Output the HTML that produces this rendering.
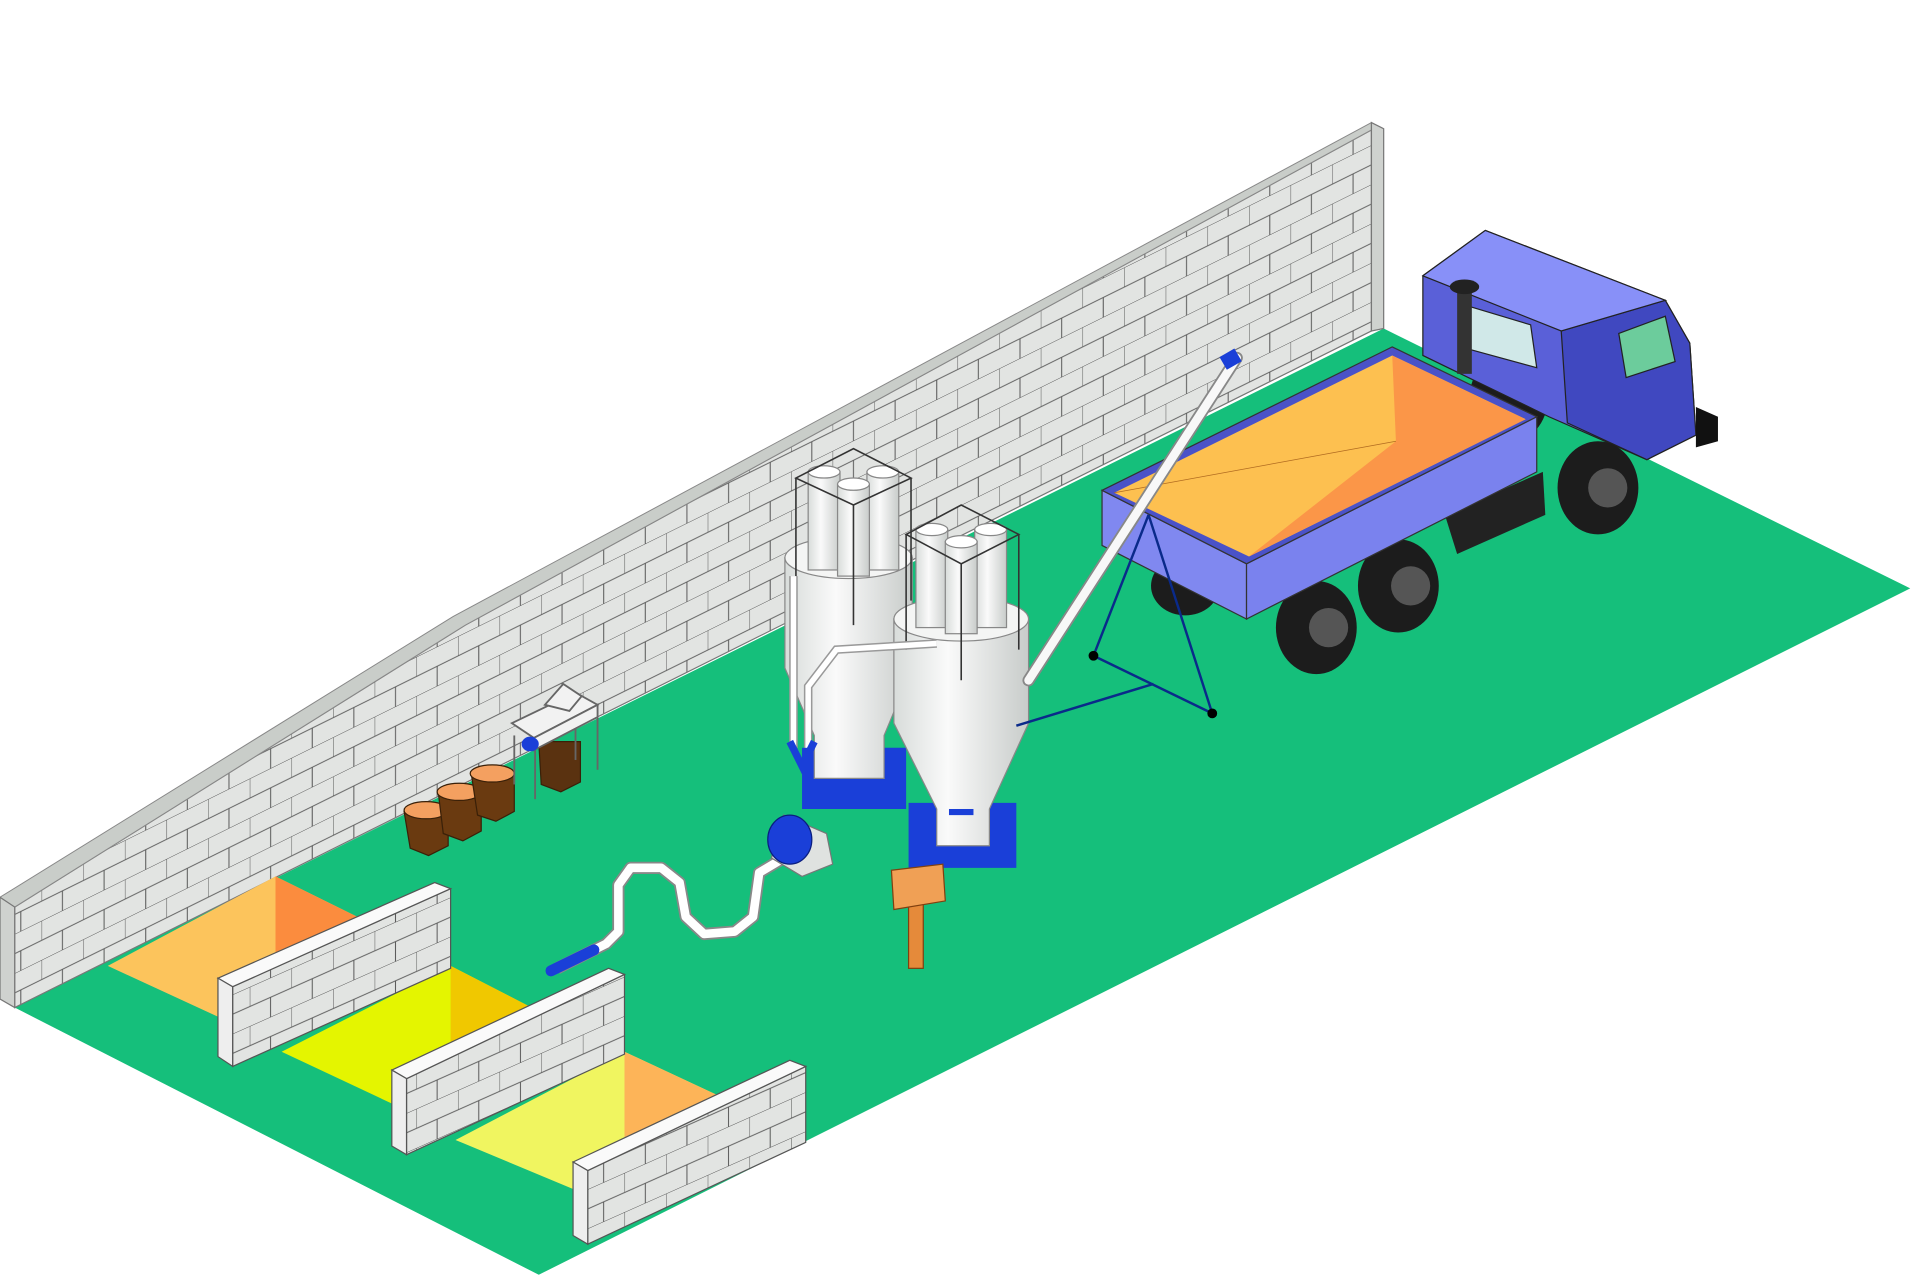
<!DOCTYPE html>
<html><head><meta charset="utf-8"><style>html,body{margin:0;padding:0;background:#fff}svg{display:block}</style></head>
<body>
<svg width="1920" height="1276" viewBox="0 0 1568 1041" preserveAspectRatio="none" xmlns="http://www.w3.org/2000/svg">
<defs>
<pattern id="br" width="34" height="32" patternUnits="userSpaceOnUse" patternTransform="skewY(-26.3)">
<rect width="34" height="32" fill="#e2e4e2"/>
<path d="M0 0H34M0 16H34M0 0V16M17 16V32" stroke="#555" stroke-width="0.8" fill="none"/>
</pattern>
<pattern id="br2" width="34" height="32" patternUnits="userSpaceOnUse" patternTransform="skewY(-24)">
<rect width="34" height="32" fill="#e2e4e2"/>
<path d="M0 0H34M0 16H34M0 0V16M17 16V32" stroke="#555" stroke-width="0.8" fill="none"/>
</pattern>
<linearGradient id="cyl" x1="0" x2="1"><stop offset="0" stop-color="#d8dcda"/><stop offset="0.4" stop-color="#fafafa"/><stop offset="1" stop-color="#c8ccca"/></linearGradient>
</defs>
<!-- floor -->
<polygon points="12,822 1130,268 1560,480 440,1040" fill="#15bf7b"/>
<!-- wall -->
<polygon points="12,740 380,510 1120,106 1120,270 12,822" fill="url(#br)" stroke="#777" stroke-width="1"/>
<polygon points="0,732 370,503 1120,100 1120,106 380,510 12,740" fill="#c9cdc9" stroke="#888" stroke-width="0.8"/>
<polygon points="0,732 12,740 12,822 0,815" fill="#cfd2cf" stroke="#777"/>
<polygon points="1120,100 1130,105 1130,268 1120,270" fill="#cfd2cf" stroke="#777"/>
<!-- bins -->
<polygon points="225,715 88,788 190,835 300,752" fill="#fcc45c"/>
<polygon points="225,715 300,752 260,790 225,790" fill="#fb8c3e"/>
<polygon points="368,788 230,858 330,905 440,825" fill="#e4f500"/>
<polygon points="368,788 440,825 400,860 368,860" fill="#f0c800"/>
<polygon points="510,858 372,930 480,975 585,893" fill="#f0f560"/>
<polygon points="510,858 585,893 540,930 510,930" fill="#fdb458"/>
<!-- bin walls -->
<g stroke="#555" stroke-width="1">
<polygon points="190,805 368,725 368,790 190,870" fill="url(#br2)"/>
<polygon points="190,805 368,725 355,720 178,798" fill="#fafafa"/>
<polygon points="178,798 190,805 190,870 178,862" fill="#eee"/>
<polygon points="332,880 510,795 510,860 332,942" fill="url(#br2)"/>
<polygon points="332,880 510,795 497,790 320,873" fill="#fafafa"/>
<polygon points="320,873 332,880 332,942 320,935" fill="#eee"/>
<polygon points="480,955 658,870 658,932 480,1015" fill="url(#br2)"/>
<polygon points="480,955 658,870 645,865 468,948" fill="#fafafa"/>
<polygon points="468,948 480,955 480,1015 468,1008" fill="#eee"/>
</g>
<!-- buckets -->
<g stroke="#3a2008" stroke-width="1">
<path d="M330,662 L335,692 L350,698 L366,690 L366,660 Z" fill="#6a3a10"/><ellipse cx="348" cy="661" rx="18" ry="7" fill="#f4a060"/>
<path d="M358,647 L362,680 L378,686 L393,678 L393,645 Z" fill="#6a3a10"/><ellipse cx="375" cy="646" rx="18" ry="7" fill="#f4a060"/>
<path d="M385,632 L390,665 L405,670 L420,662 L420,630 Z" fill="#6a3a10"/><ellipse cx="402" cy="631" rx="18" ry="7" fill="#f4a060"/>
<path d="M440,605 L442,640 L458,646 L474,638 L474,605 Z" fill="#5a3210"/>
</g>
<!-- sorting table -->
<g stroke="#666" stroke-width="1.5" fill="#f2f2f2">
<line x1="420" y1="600" x2="420" y2="640"/><line x1="437" y1="610" x2="437" y2="652"/><line x1="488" y1="575" x2="488" y2="628"/><line x1="470" y1="586" x2="470" y2="620"/>
<polygon points="418,590 470,565 488,575 436,602"/>
<polygon points="436,602 488,575 488,585 436,612"/>
<polygon points="445,575 460,558 475,568 465,580"/>
</g>
<ellipse cx="433" cy="607" rx="7" ry="6" fill="#1a3fd8"/>
<!-- hose -->
<path d="M455,790 L495,770 L505,760 L505,722 L515,708 L540,708 L555,720 L560,748 L575,762 L600,760 L615,748 L620,712 L640,700" fill="none" stroke="#888" stroke-width="10" stroke-linejoin="round"/>
<path d="M455,790 L495,770 L505,760 L505,722 L515,708 L540,708 L555,720 L560,748 L575,762 L600,760 L615,748 L620,712 L640,700" fill="none" stroke="#fff" stroke-width="7" stroke-linejoin="round"/>
<line x1="450" y1="792" x2="485" y2="775" stroke="#1a3fd8" stroke-width="9" stroke-linecap="round"/>
<!-- fan -->
<polygon points="640,665 675,680 680,705 655,715 630,700" fill="#dfe2e0" stroke="#777"/>
<ellipse cx="645" cy="685" rx="18" ry="20" fill="#1a3fd8" stroke="#0a1e80"/>
<!-- silo bases -->
<polygon points="655,610 740,610 740,660 655,660" fill="#1a3fd8"/>
<polygon points="742,655 830,655 830,708 742,708" fill="#1a3fd8"/>
<!-- silo 1 -->
<g stroke="#888" stroke-width="1">
<path d="M641,455 L641,545 L665,600 L665,635 L722,635 L722,600 L745,545 L745,455 Z" fill="url(#cyl)"/>
<ellipse cx="693" cy="455" rx="52" ry="17" fill="#f4f5f4"/>
<rect x="660" y="385" width="26" height="80" fill="url(#cyl)"/><rect x="708" y="385" width="26" height="80" fill="url(#cyl)"/><rect x="684" y="395" width="26" height="75" fill="url(#cyl)"/>
<ellipse cx="673" cy="385" rx="13" ry="5" fill="#fff"/><ellipse cx="721" cy="385" rx="13" ry="5" fill="#fff"/><ellipse cx="697" cy="395" rx="13" ry="5" fill="#fff"/>
</g>
<g stroke="#333" stroke-width="1.3" fill="none"><polygon points="650,390 697,366 744,390 697,412"/><line x1="650" y1="390" x2="650" y2="490"/><line x1="744" y1="390" x2="744" y2="490"/><line x1="697" y1="412" x2="697" y2="510"/></g>
<!-- silo 2 -->
<g stroke="#888" stroke-width="1">
<path d="M730,505 L730,590 L765,660 L765,690 L808,690 L808,660 L840,590 L840,505 Z" fill="url(#cyl)"/>
<ellipse cx="785" cy="505" rx="55" ry="18" fill="#f4f5f4"/>
<rect x="748" y="432" width="26" height="80" fill="url(#cyl)"/><rect x="796" y="432" width="26" height="80" fill="url(#cyl)"/><rect x="772" y="442" width="26" height="75" fill="url(#cyl)"/>
<ellipse cx="761" cy="432" rx="13" ry="5" fill="#fff"/><ellipse cx="809" cy="432" rx="13" ry="5" fill="#fff"/><ellipse cx="785" cy="442" rx="13" ry="5" fill="#fff"/>
</g>
<g stroke="#333" stroke-width="1.3" fill="none"><polygon points="740,436 785,412 832,436 785,460"/><line x1="740" y1="436" x2="740" y2="530"/><line x1="832" y1="436" x2="832" y2="530"/><line x1="785" y1="460" x2="785" y2="555"/></g>
<!-- pipes -->
<path d="M648,470 L648,610 M660,610 L660,560 L683,530 L765,525" fill="none" stroke="#999" stroke-width="7"/>
<path d="M648,470 L648,610 M660,610 L660,560 L683,530 L765,525" fill="none" stroke="#fff" stroke-width="4.5"/>
<path d="M645,605 L655,625 L665,605" stroke="#1a3fd8" stroke-width="6" fill="none"/>
<rect x="775" y="660" width="20" height="5" fill="#1a3fd8"/>
<!-- control panel -->
<rect x="742" y="735" width="12" height="55" fill="#e58a3a" stroke="#804010"/>
<polygon points="728,710 770,705 772,735 730,742" fill="#f0a055" stroke="#804010"/>
<!-- cab (behind bed) -->
<ellipse cx="1232" cy="325" rx="32" ry="36" fill="#1c1c1c"/>
<polygon points="1162,225 1213,188 1360,245 1380,280 1385,355 1345,375 1265,340 1162,290" fill="#5a60d8" stroke="#222"/>
<polygon points="1275,270 1360,245 1380,280 1385,355 1345,375 1280,345" fill="#4048c0" stroke="#222"/>
<polygon points="1162,225 1213,188 1360,245 1275,270" fill="#8890f8" stroke="#222"/>
<polygon points="1322,272 1360,258 1368,295 1328,308" fill="#6ccc9c" stroke="#222"/>
<polygon points="1200,250 1250,265 1255,300 1200,285" fill="#d0e8e8" stroke="#222"/>
<rect x="1190" y="235" width="12" height="70" fill="#333"/><ellipse cx="1196" cy="234" rx="12" ry="6" fill="#222"/>
<polygon points="1385,332 1403,340 1403,360 1385,365" fill="#111"/>
<polygon points="1180,420 1260,385 1262,420 1190,452" fill="#222"/>
<!-- truck wheels -->
<g fill="#1c1c1c"><ellipse cx="968" cy="478" rx="28" ry="24"/><ellipse cx="1075" cy="512" rx="33" ry="38"/><ellipse cx="1142" cy="478" rx="33" ry="38"/><ellipse cx="1305" cy="398" rx="33" ry="38"/></g>
<g fill="#555"><circle cx="1085" cy="512" r="16"/><circle cx="1152" cy="478" r="16"/><circle cx="1313" cy="398" r="16"/></g>
<!-- truck bed -->
<polygon points="900,400 1018,460 1018,505 900,445" fill="#8088f0" stroke="#333"/>
<polygon points="1018,460 1255,340 1255,385 1018,505" fill="#7a82ee" stroke="#333"/>
<polygon points="900,400 1137,283 1255,340 1018,460" fill="#4a52c8" stroke="#333"/>
<polygon points="910,402 1137,290 1246,342 1020,454" fill="#fdc050"/>
<polygon points="1137,290 1246,342 1020,454 1140,360" fill="#fb9648"/>
<line x1="910" y1="402" x2="1140" y2="360" stroke="#b06a20" stroke-width="0.6"/>
<!-- auger -->
<line x1="840" y1="555" x2="1010" y2="292" stroke="#888" stroke-width="10" stroke-linecap="round"/>
<line x1="840" y1="555" x2="1010" y2="292" stroke="#f8f8f8" stroke-width="7" stroke-linecap="round"/>
<rect x="998" y="287" width="14" height="12" fill="#1a3fd8" transform="rotate(-30 1005 293)"/>
<g stroke="#0a2a8a" stroke-width="2" fill="none"><line x1="893" y1="535" x2="938" y2="420"/><line x1="990" y1="582" x2="938" y2="420"/><line x1="893" y1="535" x2="990" y2="582"/><line x1="830" y1="592" x2="942" y2="558"/></g>
<circle cx="893" cy="535" r="4"/><circle cx="990" cy="582" r="4"/>
</svg>
</body></html>
